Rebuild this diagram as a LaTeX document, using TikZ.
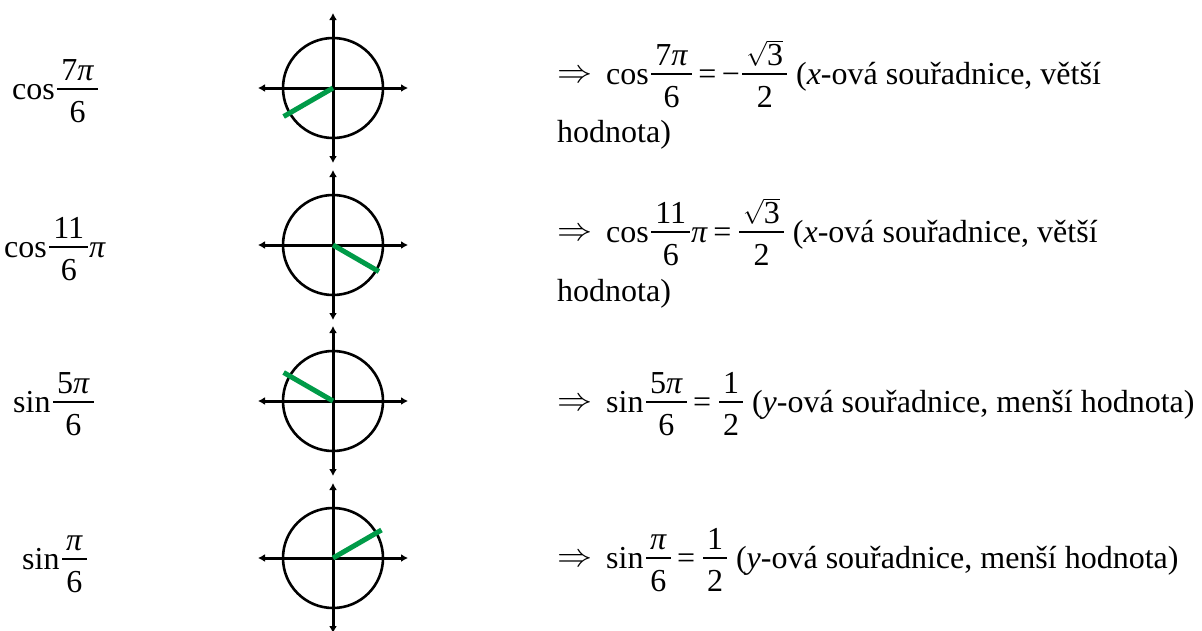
\documentclass[tikz,border=0pt]{standalone}
\usepackage{amsmath}
\usepackage{graphicx}
\usepackage{fontspec}
\setmainfont{Liberation Serif}
\usetikzlibrary{arrows.meta,calc}
\newcommand{\pix}{\textit{π}}
\newsavebox\frnum
\newsavebox\frden
\newlength\frw
\newcommand{\fr}[2]{%
  \sbox\frnum{#1}\sbox\frden{#2}%
  \setlength\frw{\wd\frnum}%
  \ifdim\wd\frden>\frw \setlength\frw{\wd\frden}\fi
  \addtolength\frw{8pt}%
  \kern2.5pt
  \rlap{\raisebox{18.7pt}{\makebox[\frw]{\usebox\frnum}}}%
  \rlap{\raisebox{9.3pt}{\rule{\frw}{1.4pt}}}%
  \raisebox{-23pt}{\makebox[\frw]{\usebox\frden}}%
  \kern1pt}
\newcommand{\impl}{\raisebox{2pt}{\resizebox{35pt}{12pt}{$\Rightarrow$}}}
\begin{document}
\begin{tikzpicture}[x=1pt,y=-1pt,
  axisline/.style={line width=3pt,-{Latex[length=7pt,width=8pt]}},
  circline/.style={line width=2.6pt},
  rayline/.style={line width=5pt,draw={rgb,255:red,0;green,155;blue,72}},
  txt/.style={inner sep=0pt,anchor=base west,font=\fontsize{32}{38}\selectfont}]
\useasboundingbox (0,0) rectangle (1202,630);
\fill[white] (0,0) rectangle (1202,630);
% circles
\foreach \n/\cy/\ang/\len in {1/88/150/57,2/245/30/53,3/401/210/57,4/558/-30/56}{
  \coordinate (c\n) at (333,\cy);
  \coordinate (l\n) at (258,\cy);
  \coordinate (r\n) at (408,\cy);
  \coordinate (t\n) at (333,\cy-75);
  \coordinate (b\n) at (333,\cy+75);
  \coordinate (e\n) at ($(c\n)+(\ang:\len)$);
  \draw[circline] (c\n) circle[radius=50];
  \draw[axisline] (c\n) -- (l\n);
  \draw[axisline] (c\n) -- (r\n);
  \draw[axisline] (c\n) -- (t\n);
  \draw[axisline] (c\n) -- (b\n);
  \draw[rayline] (c\n) -- (e\n);
}
% left labels
\node[txt] (L1) at (12,99) {cos\fr{7\pix}{6}};
\node[txt] (L2) at (4,257) {cos\fr{11}{6}\pix};
\node[txt] (L3) at (13,412) {sin\fr{5\pix}{6}};
\node[txt] (L4) at (22,569) {sin\fr{\pix}{6}};
% right texts
\node[txt] (R1) at (557,84) {\impl\hspace{14pt}cos\fr{7\pix}{6}\,=\,−\fr{$\sqrt{\mbox{3}}$}{2}\ (\textit{x}-ová souřadnice, větší};
\node[txt] (H1) at (557,142) {hodnota)};
\node[txt] (R2) at (557,242) {\impl\hspace{14pt}cos\fr{11}{6}\pix\,=\,\fr{$\sqrt{\mbox{3}}$}{2}\ (\textit{x}-ová souřadnice, větší};
\node[txt] (H2) at (557,301) {hodnota)};
\node[txt] (R3) at (557,412) {\impl\hspace{14pt}sin\fr{5\pix}{6}\,=\,\fr{1}{2}\ (\textit{y}-ová souřadnice, menší hodnota)};
\node[txt] (R4) at (557,568) {\impl\hspace{14pt}sin\fr{\pix}{6}\,=\,\fr{1}{2}\ (\textit{y}-ová souřadnice, menší hodnota)};
\end{tikzpicture}
\end{document}
